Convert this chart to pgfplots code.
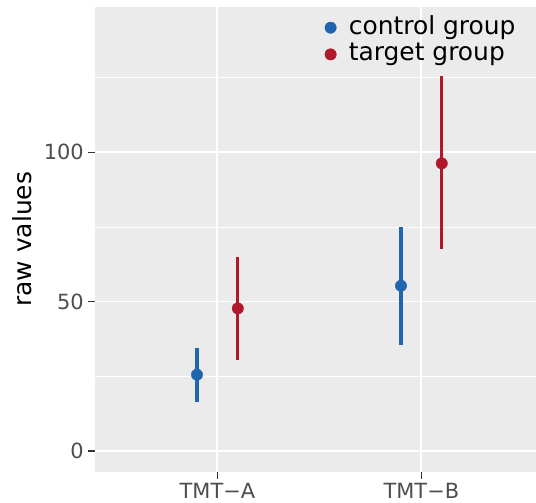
\documentclass[border=0pt]{standalone}
\usepackage{pgfplots}
\pgfplotsset{compat=1.18}
\usepackage{fontspec}
\setmainfont{DejaVu Sans}
\definecolor{bg}{HTML}{EBEBEB}
\definecolor{ctrl}{HTML}{2166AC}
\definecolor{targ}{HTML}{B2182B}
\definecolor{ticklab}{HTML}{4D4D4D}
\definecolor{tickc}{HTML}{333333}
\begin{document}
\begin{tikzpicture}[x=1bp,y=1bp]
\path[use as bounding box] (0,0) rectangle (536,503);
\begin{axis}[
  at={(95bp,31.3bp)}, anchor=south west,
  scale only axis, width=441bp, height=465bp,
  xmin=0.4, xmax=2.562, ymin=-7, ymax=148.8,
  axis background/.style={fill=bg},
  axis line style={draw=none},
  xtick={1,2}, xticklabels={TMT−A, TMT−B},
  ytick={0,50,100}, minor ytick={25,75,125},
  grid=both,
  major grid style={white, line width=1.8bp},
  minor grid style={white, line width=0.9bp},
  tick align=outside, tick pos=left,
  major tick length=7bp, minor tick length=0bp,
  major tick style={tickc, line width=1.4bp},
  minor tick style={draw=none},
  /pgf/number format/assume math mode=true,
  ticklabel style={ticklab, font=\fontsize{21}{25}\selectfont},
  yticklabel style={inner xsep=0pt, xshift=-4bp},
  xticklabel style={inner ysep=0pt, yshift=-4bp},
  ylabel={raw values},
  ylabel style={font=\fontsize{25}{30}\selectfont, at={(axis description cs:-0.1435,0.5)}, anchor=base},
  legend style={at={(rel axis cs:0.5209,0.984)}, anchor=north west, draw=none, fill=none,
    font=\fontsize{25}{28}\selectfont, row sep=0pt, inner sep=0pt,
    nodes={inner ysep=0.85bp, inner xsep=0pt, text height=19bp, text depth=6bp}},
  legend cell align=left,
]
\addplot[only marks, mark=*, color=ctrl, mark size=5.7bp,
  error bars/.cd, y dir=both, y explicit, error mark=none,
  error bar style={line width=3.1bp, ctrl}]
  coordinates {
    (0.9,25.5) += (0,8.8) -= (0,9.1)
    (1.9,55.3) += (0,19.8) -= (0,19.9)
  };
\addlegendentry{\hspace{12.5bp}control group}
\addplot[only marks, mark=*, color=targ, mark size=5.7bp,
  error bars/.cd, y dir=both, y explicit, error mark=none,
  error bar style={line width=3.1bp, targ}]
  coordinates {
    (1.1,47.7) += (0,17.3) -= (0,17.3)
    (2.1,96.3) += (0,29.3) -= (0,28.8)
  };
\addlegendentry{\hspace{12.5bp}target group}
\end{axis}
\end{tikzpicture}
\end{document}
